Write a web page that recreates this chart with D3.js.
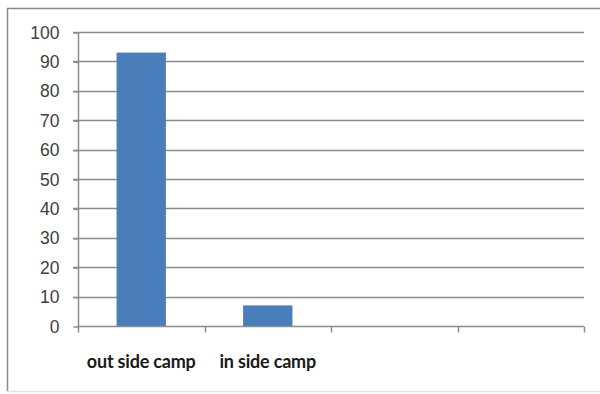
<!DOCTYPE html>
<html>
<head>
<meta charset="utf-8">
<script src="https://cdn.jsdelivr.net/npm/d3@7"></script>
<style>
  html, body { margin: 0; padding: 0; background: #fff; }
  svg { display: block; }
</style>
</head>
<body>
<svg id="chart" width="600" height="394"></svg>
<script>
// Category slots along the x axis (two unlabeled slots stay empty)
const categories = ["out side camp", "in side camp", "", " "];
// Percentage for each category
const values = [93, 7, null, null];
// Y-axis tick labels
const yTicks = [0, 10, 20, 30, 40, 50, 60, 70, 80, 90, 100];

const svg = d3.select("#chart");
const W = 600, H = 394;
const plot = { left: 78, right: 584, top: 32, bottom: 326 };

// Outer frame of the chart area
svg.append("line").attr("x1", 7.5).attr("x2", 7.5).attr("y1", 8).attr("y2", 392)
  .attr("stroke", "#8a8a8a").attr("stroke-width", 1.5);
svg.append("line").attr("x1", 7).attr("x2", W).attr("y1", 8.5).attr("y2", 8.5)
  .attr("stroke", "#8a8a8a").attr("stroke-width", 1.5);
svg.append("line").attr("x1", 7).attr("x2", W).attr("y1", 391.5).attr("y2", 391.5)
  .attr("stroke", "#e4e4e4").attr("stroke-width", 1.5);

const x = d3.scaleBand().domain(categories).range([plot.left, plot.right]).paddingInner(0).paddingOuter(0);
const y = d3.scaleLinear().domain([0, 100]).range([plot.bottom, plot.top]);

// Horizontal gridlines
svg.append("g").selectAll("line").data(yTicks.filter(d => d > 0)).join("line")
  .attr("x1", plot.left - 5).attr("x2", plot.right)
  .attr("y1", d => Math.round(y(d)) + 0.5).attr("y2", d => Math.round(y(d)) + 0.5)
  .attr("stroke", "#8c8c8c").attr("stroke-width", 1.5);

// Bars
const barW = x.bandwidth() * 0.39;
svg.append("g").selectAll("rect").data(categories.map((c, i) => ({ c, v: values[i] })).filter(d => d.v != null))
  .join("rect")
  .attr("x", d => x(d.c) + (x.bandwidth() - barW) / 2)
  .attr("width", barW)
  .attr("y", d => y(d.v))
  .attr("height", d => y(0) - y(d.v))
  .attr("fill", "#4a7ebb");

// Y axis
const yAxis = d3.axisLeft(y).tickValues(yTicks).tickSize(5).tickPadding(14).tickFormat(d3.format("d"));
const gy = svg.append("g").attr("transform", `translate(${plot.left + 0.5},0.5)`).call(yAxis);
gy.select(".domain").attr("stroke", "#8c8c8c").attr("stroke-width", 1.5).attr("d", `M0,${plot.top}V${plot.bottom}`);
gy.selectAll(".tick line").attr("stroke", "#8c8c8c").attr("stroke-width", 1.5);
gy.selectAll(".tick text").attr("fill", "#404040")
  .style("font-family", "'Liberation Sans', Arial, sans-serif").style("font-size", "17.5px");

// X axis with ticks at category boundaries
const gx = svg.append("g").attr("transform", `translate(0,${plot.bottom + 0.5})`);
gx.append("line").attr("x1", plot.left).attr("x2", plot.right).attr("y1", 0).attr("y2", 0)
  .attr("stroke", "#8c8c8c").attr("stroke-width", 1.5);
const bounds = categories.map(c => x(c)).concat([plot.right]);
gx.selectAll("line.tk").data(bounds).join("line").attr("class", "tk")
  .attr("x1", d => Math.round(d) + 0.5).attr("x2", d => Math.round(d) + 0.5)
  .attr("y1", 0).attr("y2", 6)
  .attr("stroke", "#8c8c8c").attr("stroke-width", 1.5);
gx.selectAll("text").data(categories.filter(c => c.trim() !== "")).join("text")
  .attr("x", d => x(d) + x.bandwidth() / 2)
  .attr("y", 41)
  .attr("text-anchor", "middle")
  .attr("fill", "#1a1a1a")
  .style("font-family", "Lato, 'Open Sans', sans-serif")
  .style("font-weight", "bold")
  .style("font-size", "18px")
  .style("letter-spacing", "-0.2px")
  .text(d => d);
</script>
</body>
</html>
